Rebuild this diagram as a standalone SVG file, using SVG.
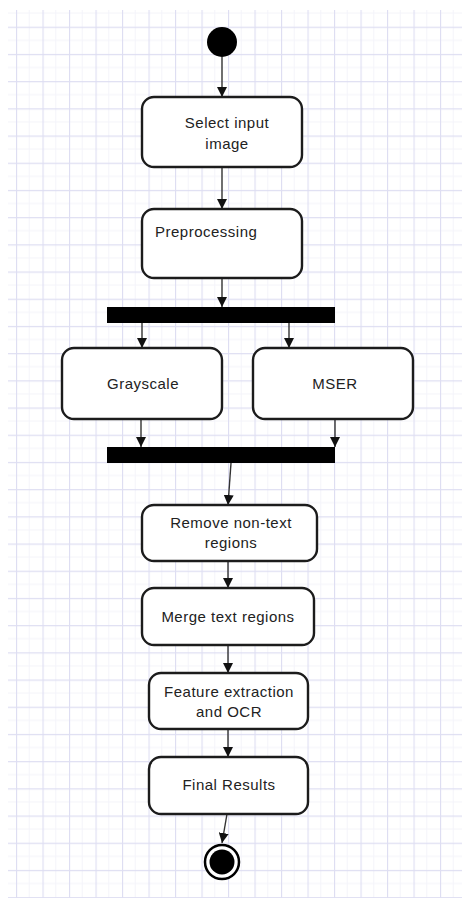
<svg xmlns="http://www.w3.org/2000/svg" width="462" height="898" viewBox="0 0 462 898">
  <defs>
    <!-- background grid paper: major lines with faint half-step minor lines -->
    <pattern id="grid" patternUnits="userSpaceOnUse" x="16" y="26.7" width="26.5" height="27.2">
      <path d="M13.25 0V27.2M0 13.6H26.5" stroke="#f4f4fa" stroke-width="1" fill="none"/>
      <path d="M0.5 0V27.2M0 0.5H26.5" stroke="#dedef2" stroke-width="1.3" fill="none"/>
    </pattern>
    <marker id="arrow" viewBox="0 0 10 10" refX="10" refY="5" markerWidth="10" markerHeight="10" markerUnits="userSpaceOnUse" orient="auto">
      <path d="M0 0L10 5L0 10Z" fill="#111"/>
    </marker>
  </defs>
  <style>
    .act { fill: #fff; stroke: #1c1c1c; stroke-width: 2.4; }
    .bar { fill: #000; }
    .lbl { font-family: "Liberation Sans", Arial, sans-serif; font-size: 15px; letter-spacing: 0.5px; fill: #222; text-anchor: middle; }
    .edge { stroke: #333; stroke-width: 1.4; fill: none; marker-end: url(#arrow); }
  </style>

  <rect width="462" height="898" fill="#fff"/>
  <rect x="8" y="10" width="454" height="888" fill="url(#grid)"/>

  <!-- connectors -->
  <g id="connectors">
    <path class="edge" d="M222 57V97"/>
    <path class="edge" d="M222 167V209"/>
    <path class="edge" d="M222 278V307"/>
    <path class="edge" d="M142 323V348"/>
    <path class="edge" d="M289 323V348"/>
    <path class="edge" d="M141 419V447"/>
    <path class="edge" d="M335 419V447"/>
    <path class="edge" d="M231 463L228 505"/>
    <path class="edge" d="M228 561V588"/>
    <path class="edge" d="M228 645V673"/>
    <path class="edge" d="M228 729V757"/>
    <path class="edge" d="M227 814L222 843"/>
  </g>

  <g id="start">
    <circle cx="222" cy="42" r="15" fill="#000"/>
  </g>

  <g id="select-input">
    <rect class="act" x="142" y="97" width="160" height="70" rx="12"/>
    <text class="lbl" x="227" y="128">Select input</text>
    <text class="lbl" x="227" y="149">image</text>
  </g>

  <g id="preprocessing">
    <rect class="act" x="142" y="209" width="160" height="69" rx="12"/>
    <text class="lbl" x="155" y="237" style="text-anchor:start">Preprocessing</text>
  </g>

  <g id="fork">
    <rect class="bar" x="107" y="307" width="228" height="16"/>
  </g>

  <g id="grayscale">
    <rect class="act" x="62" y="348" width="160" height="71" rx="12"/>
    <text class="lbl" x="143" y="389">Grayscale</text>
  </g>

  <g id="mser">
    <rect class="act" x="253" y="348" width="160" height="71" rx="12"/>
    <text class="lbl" x="335" y="389">MSER</text>
  </g>

  <g id="join">
    <rect class="bar" x="107" y="447" width="228" height="16"/>
  </g>

  <g id="remove-non-text">
    <rect class="act" x="142" y="505" width="175" height="56" rx="12"/>
    <text class="lbl" x="231" y="528">Remove non-text</text>
    <text class="lbl" x="231" y="548">regions</text>
  </g>

  <g id="merge-text">
    <rect class="act" x="142" y="588" width="172" height="57" rx="12"/>
    <text class="lbl" x="228" y="622">Merge text regions</text>
  </g>

  <g id="feature-ocr">
    <rect class="act" x="149" y="673" width="159" height="56" rx="12"/>
    <text class="lbl" x="229" y="697">Feature extraction</text>
    <text class="lbl" x="229" y="717">and OCR</text>
  </g>

  <g id="final-results">
    <rect class="act" x="149" y="757" width="159" height="57" rx="12"/>
    <text class="lbl" x="229" y="790">Final Results</text>
  </g>

  <g id="end">
    <circle cx="222" cy="862" r="17" fill="#fff" stroke="#000" stroke-width="2.5"/>
    <circle cx="222" cy="862" r="12.5" fill="#000"/>
  </g>
</svg>
